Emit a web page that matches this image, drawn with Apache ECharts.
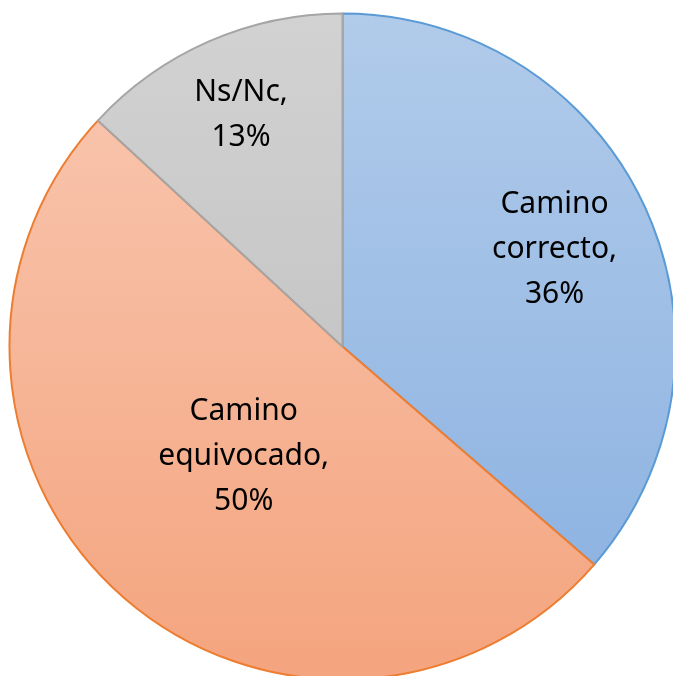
<!DOCTYPE html>
<html>
<head>
<meta charset="utf-8">
<script src="https://cdn.jsdelivr.net/npm/echarts@6/dist/echarts.min.js"></script>
<style>
  html, body { margin: 0; padding: 0; background: #fff; }
  #chart { width: 673px; height: 676px; }
</style>
</head>
<body>
<div id="chart"></div>
<script>
// datos
var categories = ["Camino correcto", "Camino equivocado", "Ns/Nc"];
var values = [36, 50, 13];
// posicion de la etiqueta como fraccion del radio
var labelRadius = [0.70, 0.445, 0.76];

var fills = [
  ["#b1cbea", "#8fb4e2"],
  ["#f8c3ab", "#f4a47e"],
  ["#d2d2d2", "#c6c6c6"]
];
var borders = ["#5b9bd5", "#ed7d31", "#a5a5a5"];

var cx = 342.5, cy = 346.5, R = 333;

var total = values.reduce(function (a, b) { return a + b; }, 0);
var midAngles = [];
var acc = 0;
values.forEach(function (v) {
  midAngles.push((acc + v / 2) / total * Math.PI * 2);
  acc += v;
});

var myChart = echarts.init(document.getElementById("chart"), null, { renderer: "canvas" });

var option = {
  animation: false,
  series: [
    {
      type: "pie",
      center: [cx, cy],
      radius: R,
      startAngle: 90,
      clockwise: true,
      silent: true,
      data: categories.map(function (name, i) {
        return {
          name: name,
          value: values[i],
          itemStyle: {
            color: new echarts.graphic.LinearGradient(0, 0, 0, 1, [
              { offset: 0, color: fills[i][0] },
              { offset: 1, color: fills[i][1] }
            ]),
            borderColor: borders[i],
            borderWidth: 2
          }
        };
      }),
      label: {
        show: true,
        position: "inside",
        color: "#000",
        fontFamily: "Noto Sans",
        fontSize: 30,
        lineHeight: 45,
        align: "center",
        formatter: function (p) {
          var parts = p.name.split(" ");
          return parts.join("\n") + ",\n" + p.value + "%";
        }
      },
      labelLine: { show: false },
      labelLayout: function (p) {
        var a = midAngles[p.dataIndex];
        var f = labelRadius[p.dataIndex];
        return {
          x: cx + Math.sin(a) * R * f,
          y: cy - Math.cos(a) * R * f,
          align: "center",
          verticalAlign: "middle"
        };
      }
    }
  ]
};

myChart.setOption(option);
</script>
</body>
</html>
